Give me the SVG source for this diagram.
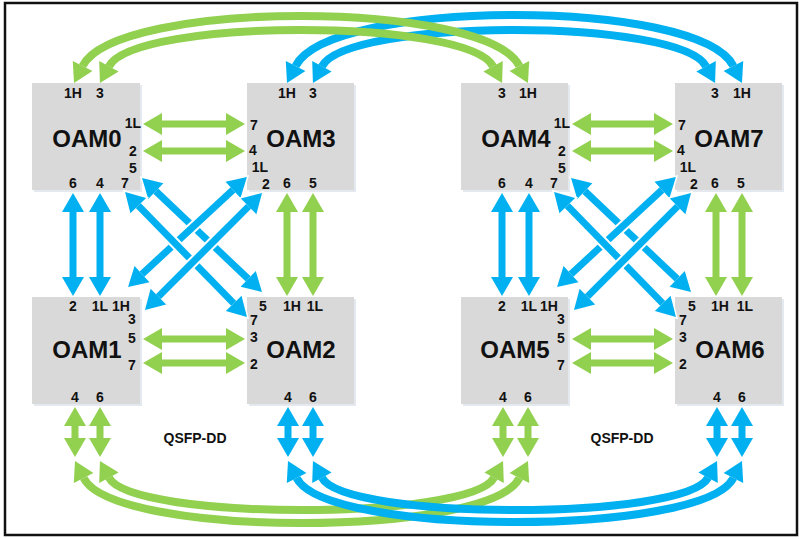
<svg xmlns="http://www.w3.org/2000/svg" width="799" height="539" viewBox="0 0 799 539">
<style>
.node{fill:#d9d9d9}
.sh{fill:#e4e9ef}
text{font-family:"Liberation Sans",Arial,sans-serif;font-weight:bold;fill:#111;text-anchor:middle}
.t{font-size:24px}
.p{font-size:14px}
.q{font-size:14px}
.g{fill:none;stroke:#92D050}
.b{fill:none;stroke:#00B0F0}
.s{stroke-width:7}
.a{stroke-width:8}
.g.s,.g.a{marker-start:url(#mg);marker-end:url(#mg)}
.b.s,.b.a{marker-start:url(#mb);marker-end:url(#mb)}
.h{fill:none;stroke:#fff;stroke-width:11;marker-start:url(#mw);marker-end:url(#mw)}
</style>
<defs>
<marker id="mg" markerUnits="userSpaceOnUse" viewBox="0 0 19 22" markerWidth="19" markerHeight="22" refX="0" refY="11" orient="auto-start-reverse" overflow="visible"><path d="M0,0 L19,11 L0,22 Z" fill="#92D050"/></marker>
<marker id="mb" markerUnits="userSpaceOnUse" viewBox="0 0 19 22" markerWidth="19" markerHeight="22" refX="0" refY="11" orient="auto-start-reverse" overflow="visible"><path d="M0,0 L19,11 L0,22 Z" fill="#00B0F0"/></marker>
<marker id="mw" markerUnits="userSpaceOnUse" viewBox="0 0 19 22" markerWidth="19" markerHeight="22" refX="0" refY="11" orient="auto-start-reverse" overflow="visible"><path d="M0,0 L19,11 L0,22 Z" fill="#fff" stroke="#fff" stroke-width="3"/></marker>
</defs>
<rect x="0" y="0" width="799" height="539" fill="#fff"/>
<rect x="5" y="3" width="792" height="532" fill="none" stroke="#111" stroke-width="2.5"/>

<g id="OAM0">
<rect class="sh" x="34" y="85" width="108" height="107"/><rect class="node" x="32" y="83" width="108" height="107"/>
<text class="t" x="87" y="147">OAM0</text>
<text class="p" x="73" y="98">1H</text><text class="p" x="100" y="98">3</text>
<text class="p" x="133" y="128">1L</text><text class="p" x="133" y="156">2</text><text class="p" x="133" y="173">5</text>
<text class="p" x="73" y="188">6</text><text class="p" x="100" y="188">4</text><text class="p" x="125" y="188">7</text>
</g>
<g id="OAM3">
<rect class="sh" x="249" y="85" width="107" height="107"/><rect class="node" x="247" y="83" width="107" height="107"/>
<text class="t" x="301" y="147">OAM3</text>
<text class="p" x="287" y="98">1H</text><text class="p" x="313" y="98">3</text>
<text class="p" x="254" y="130">7</text><text class="p" x="253" y="155">4</text><text class="p" x="260" y="172">1L</text>
<text class="p" x="266" y="189">2</text><text class="p" x="287" y="188">6</text><text class="p" x="313" y="188">5</text>
</g>
<g id="OAM4">
<rect class="sh" x="463" y="85" width="107" height="107"/><rect class="node" x="461" y="83" width="107" height="107"/>
<text class="t" x="516" y="147">OAM4</text>
<text class="p" x="502" y="98">3</text><text class="p" x="528" y="98">1H</text>
<text class="p" x="562" y="128">1L</text><text class="p" x="562" y="156">2</text><text class="p" x="562" y="173">5</text>
<text class="p" x="502" y="188">6</text><text class="p" x="529" y="188">4</text><text class="p" x="554" y="188">7</text>
</g>
<g id="OAM7">
<rect class="sh" x="677" y="85" width="107" height="107"/><rect class="node" x="675" y="83" width="107" height="107"/>
<text class="t" x="729" y="147">OAM7</text>
<text class="p" x="715" y="98">3</text><text class="p" x="742" y="98">1H</text>
<text class="p" x="682" y="130">7</text><text class="p" x="681" y="155">4</text><text class="p" x="688" y="172">1L</text>
<text class="p" x="694" y="189">2</text><text class="p" x="715" y="188">6</text><text class="p" x="741" y="188">5</text>
</g>
<g id="OAM1">
<rect class="sh" x="34" y="299" width="108" height="107"/><rect class="node" x="32" y="297" width="108" height="107"/>
<text class="t" x="87" y="358">OAM1</text>
<text class="p" x="73" y="311">2</text><text class="p" x="100" y="311">1L</text><text class="p" x="121" y="311">1H</text>
<text class="p" x="132" y="324">3</text><text class="p" x="132" y="343">5</text><text class="p" x="132" y="370">7</text>
<text class="p" x="75" y="402">4</text><text class="p" x="100" y="402">6</text>
</g>
<g id="OAM2">
<rect class="sh" x="249" y="299" width="107" height="107"/><rect class="node" x="247" y="297" width="107" height="107"/>
<text class="t" x="301" y="358">OAM2</text>
<text class="p" x="263" y="311">5</text><text class="p" x="292" y="311">1H</text><text class="p" x="315" y="311">1L</text>
<text class="p" x="254" y="325">7</text><text class="p" x="254" y="342">3</text><text class="p" x="254" y="369">2</text>
<text class="p" x="288" y="402">4</text><text class="p" x="313" y="402">6</text>
</g>
<g id="OAM5">
<rect class="sh" x="463" y="299" width="107" height="107"/><rect class="node" x="461" y="297" width="107" height="107"/>
<text class="t" x="515" y="358">OAM5</text>
<text class="p" x="502" y="311">2</text><text class="p" x="529" y="311">1L</text><text class="p" x="549" y="311">1H</text>
<text class="p" x="561" y="324">3</text><text class="p" x="561" y="343">5</text><text class="p" x="561" y="370">7</text>
<text class="p" x="503" y="402">4</text><text class="p" x="528" y="402">6</text>
</g>
<g id="OAM6">
<rect class="sh" x="677" y="299" width="107" height="107"/><rect class="node" x="675" y="297" width="107" height="107"/>
<text class="t" x="730" y="358">OAM6</text>
<text class="p" x="692" y="311">5</text><text class="p" x="720" y="311">1H</text><text class="p" x="745" y="311">1L</text>
<text class="p" x="683" y="325">7</text><text class="p" x="683" y="342">3</text><text class="p" x="683" y="369">2</text>
<text class="p" x="717" y="402">4</text><text class="p" x="742" y="402">6</text>
</g>
<g id="labels">
<text class="q" x="195" y="443">QSFP-DD</text>
<text class="q" x="622" y="443">QSFP-DD</text>
</g>

<g id="connectors">
<path class="b a" d="M295.6,66 C330,-2 699,-2 733.4,66"/>
<path class="b a" d="M321.9,66.3 C347.8,17.9 680.2,17.9 706.1,66.3"/>
<path class="g a" d="M82.6,66 C116.3,-0.7 485.7,-0.7 519.4,66"/>
<path class="g a" d="M108.9,66.3 C134.8,17.9 467.2,17.9 493.1,66.3"/>
<path class="g a" d="M83.6,478 C113.9,538 489.1,538 519.4,478"/>
<path class="g a" d="M108.9,477.7 C131.9,520.8 471.1,520.8 494.1,477.7"/>
<path class="b a" d="M296.6,478 C326.3,536.7 703.7,536.7 733.4,478"/>
<path class="b a" d="M321.9,477.7 C344.9,520.8 685.1,520.8 708.1,477.7"/>
<path class="g s" d="M162,124 H226"/><path class="g s" d="M162,151 H226"/>
<path class="g s" d="M162,339 H226"/><path class="g s" d="M162,363 H226"/>
<path class="g s" d="M591,124 H654"/><path class="g s" d="M591,151 H654"/>
<path class="g s" d="M591,339 H654"/><path class="g s" d="M591,363 H654"/>
<path class="b s" d="M73,212 V277"/><path class="b s" d="M100,212 V277"/>
<path class="g s" d="M287,212 V277"/><path class="g s" d="M313,212 V277"/>
<path class="b s" d="M502,212 V277"/><path class="b s" d="M529,212 V277"/>
<path class="g s" d="M716,212 V277"/><path class="g s" d="M742,212 V277"/>
<path class="g s" d="M75,426 V438"/><path class="g s" d="M100,426 V438"/>
<path class="b s" d="M288,426 V438"/><path class="b s" d="M313,426 V438"/>
<path class="g s" d="M503,426 V438"/><path class="g s" d="M528,426 V438"/>
<path class="b s" d="M717,426 V438"/><path class="b s" d="M742,426 V438"/>
<path class="h" d="M155.8,191.1 L248.2,278.9"/><path class="b s" d="M155.8,191.1 L248.2,278.9"/>
<path class="h" d="M233,189.9 L142,274.1"/><path class="b s" d="M233,189.9 L142,274.1"/>
<path class="h" d="M138.3,205.6 L233.7,303.4"/><path class="b s" d="M138.3,205.6 L233.7,303.4"/>
<path class="h" d="M248.6,206.4 L158.4,296.6"/><path class="b s" d="M248.6,206.4 L158.4,296.6"/>
<path class="h" d="M584.8,191.1 L677.2,278.9"/><path class="b s" d="M584.8,191.1 L677.2,278.9"/>
<path class="h" d="M662,189.9 L571,274.1"/><path class="b s" d="M662,189.9 L571,274.1"/>
<path class="h" d="M567.3,205.6 L662.7,303.4"/><path class="b s" d="M567.3,205.6 L662.7,303.4"/>
<path class="h" d="M677.6,206.4 L587.4,296.6"/><path class="b s" d="M677.6,206.4 L587.4,296.6"/>
</g>
</svg>
